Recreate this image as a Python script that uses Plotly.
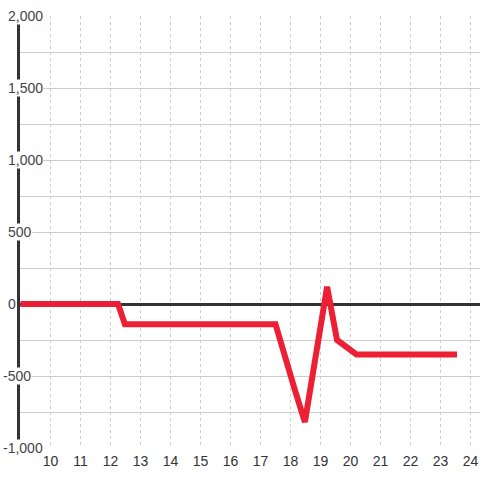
import plotly.graph_objects as go

# values
x_vals = [9, 12.25, 12.48, 17.5, 18.15, 18.48, 19.22, 19.55, 20.2, 23.55]
y_vals = [0, 0, -140, -140, -600, -820, 120, -250, -350, -350]

x_ticks = list(range(10, 25))
y_ticks = [-1000, -500, 0, 500, 1000, 1500, 2000]

fig = go.Figure()
fig.add_trace(go.Scatter(x=x_vals, y=y_vals, mode="lines",
                         line=dict(color="#ec1f35", width=6), showlegend=False))

# y tick labels drawn over the axis line with a white box
for v in y_ticks:
    fig.add_annotation(x=0, xref="paper", y=v, yref="y", text=f"{v:,}",
                       showarrow=False, xanchor="left", yanchor="middle",
                       xshift=-18 if v < 0 else -13, bgcolor="white", borderpad=0,
                       font=dict(size=14, color="#444"))

fig.update_xaxes(range=[8.983, 24.317], tickvals=x_ticks, ticktext=[str(t) for t in x_ticks],
                 showgrid=True, gridcolor="#cccccc", griddash="dot", gridwidth=1,
                 zeroline=False, showline=False, ticks="", automargin=False,
                 ticklabelstandoff=3, tickfont=dict(size=14, color="#333"))
fig.update_yaxes(range=[-1000, 2000], dtick=250, showticklabels=False,
                 showgrid=True, gridcolor="#cccccc", gridwidth=1, automargin=False,
                 zeroline=True, zerolinecolor="#333", zerolinewidth=3,
                 showline=True, linecolor="#333", linewidth=3, ticks="")

fig.update_layout(width=480, height=480, margin=dict(l=20, r=0, t=16, b=32),
                  plot_bgcolor="white", paper_bgcolor="white",
                  font=dict(family="Liberation Sans, Arial, sans-serif"))

# drop the default 8px page margin so the figure sits at the window corner
fig.write_html("out.html", config={"displayModeBar": False},
               post_script="document.body.style.margin='0';")
